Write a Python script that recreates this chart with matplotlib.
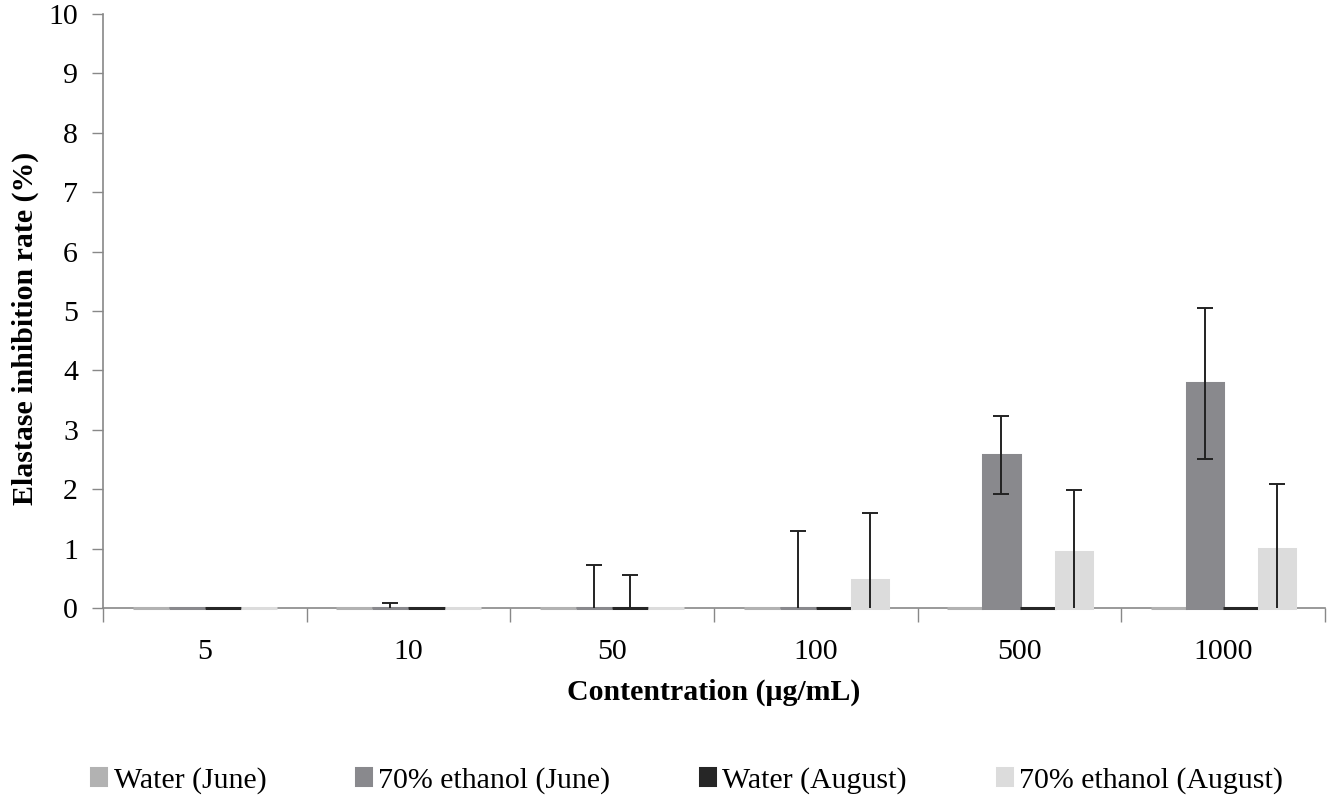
import numpy as np
import matplotlib
matplotlib.use("Agg")
from matplotlib import pyplot as plt

# Data
concentrations = ["5", "10", "50", "100", "500", "1000"]
series_names = ["Water (June)", "70% ethanol (June)", "Water (August)", "70% ethanol (August)"]

water_june = [0, 0, 0, 0, 0, 0]
water_june_err = [0, 0, 0, 0, 0, 0]
ethanol_june = [0, 0, 0, 0, 2.58, 3.78]
ethanol_june_err = [0, 0.08, 0.73, 1.30, 0.66, 1.27]
water_aug = [0, 0, 0, 0, 0, 0]
water_aug_err = [0, 0, 0.55, 0, 0, 0]
ethanol_aug = [0, 0, 0, 0.47, 0.95, 1.00]
ethanol_aug_err = [0, 0, 0, 1.13, 1.03, 1.08]

colors = ["#b2b2b2", "#89898d", "#262626", "#dcdcdc"]

plt.rcParams['font.family'] = ['Liberation Serif', 'DejaVu Serif']

fig = plt.figure(figsize=(13.27, 8.06), dpi=100)
ax = fig.add_axes([0.0776, 0.2457, 0.9209, 0.737])

x = np.arange(len(concentrations))
width = 0.177
values = [water_june, ethanol_june, water_aug, ethanol_aug]
errors = [water_june_err, ethanol_june_err, water_aug_err, ethanol_aug_err]

for i in range(4):
    pos = x + (i - 1.5) * width
    ax.bar(pos, values[i], width, color=colors[i], edgecolor=colors[i],
           linewidth=2.2, label=series_names[i], zorder=3, clip_on=False)
    err = np.array(errors[i])
    mask = err > 0
    if mask.any():
        ax.errorbar(pos[mask], np.array(values[i])[mask], yerr=err[mask],
                    fmt="none", ecolor="#222222", elinewidth=1.4,
                    capsize=6, capthick=1.4, zorder=4)

ax.set_xlim(-0.5, len(concentrations) - 0.5)
ax.set_ylim(0, 10)
ax.set_yticks(range(0, 11))

# group boundaries as major ticks, labels at centres
ax.set_xticks(np.arange(-0.5, len(concentrations), 1.0))
ax.set_xticklabels([])
ax.set_xticks(x, minor=True)
ax.set_xticklabels(concentrations, minor=True)
ax.tick_params(axis="x", which="major", length=10, color="#888888", width=1)
ax.tick_params(axis="x", which="minor", length=0, pad=22, labelsize=21.5)
ax.tick_params(axis="y", length=8, color="#888888", width=1, labelsize=21.5, pad=10)

for s in ["top", "right"]:
    ax.spines[s].set_visible(False)
for s in ["left", "bottom"]:
    ax.spines[s].set_color("#888888")
    ax.spines[s].set_linewidth(1.2)

ax.set_xlabel("Contentration (μg/mL)", fontsize=21.5, fontweight="bold", labelpad=10)
ax.set_ylabel("Elastase inhibition rate (%)", fontsize=21.5, fontweight="bold")
ax.yaxis.set_label_coords(-0.052, 0.47)

ax.legend(loc="center", bbox_to_anchor=(0.478, -0.29), ncol=4, frameon=False,
          fontsize=21.5, handlelength=0.5, handleheight=0.5, handletextpad=0.25,
          columnspacing=3.0)

fig.savefig("out.png", dpi=100)
